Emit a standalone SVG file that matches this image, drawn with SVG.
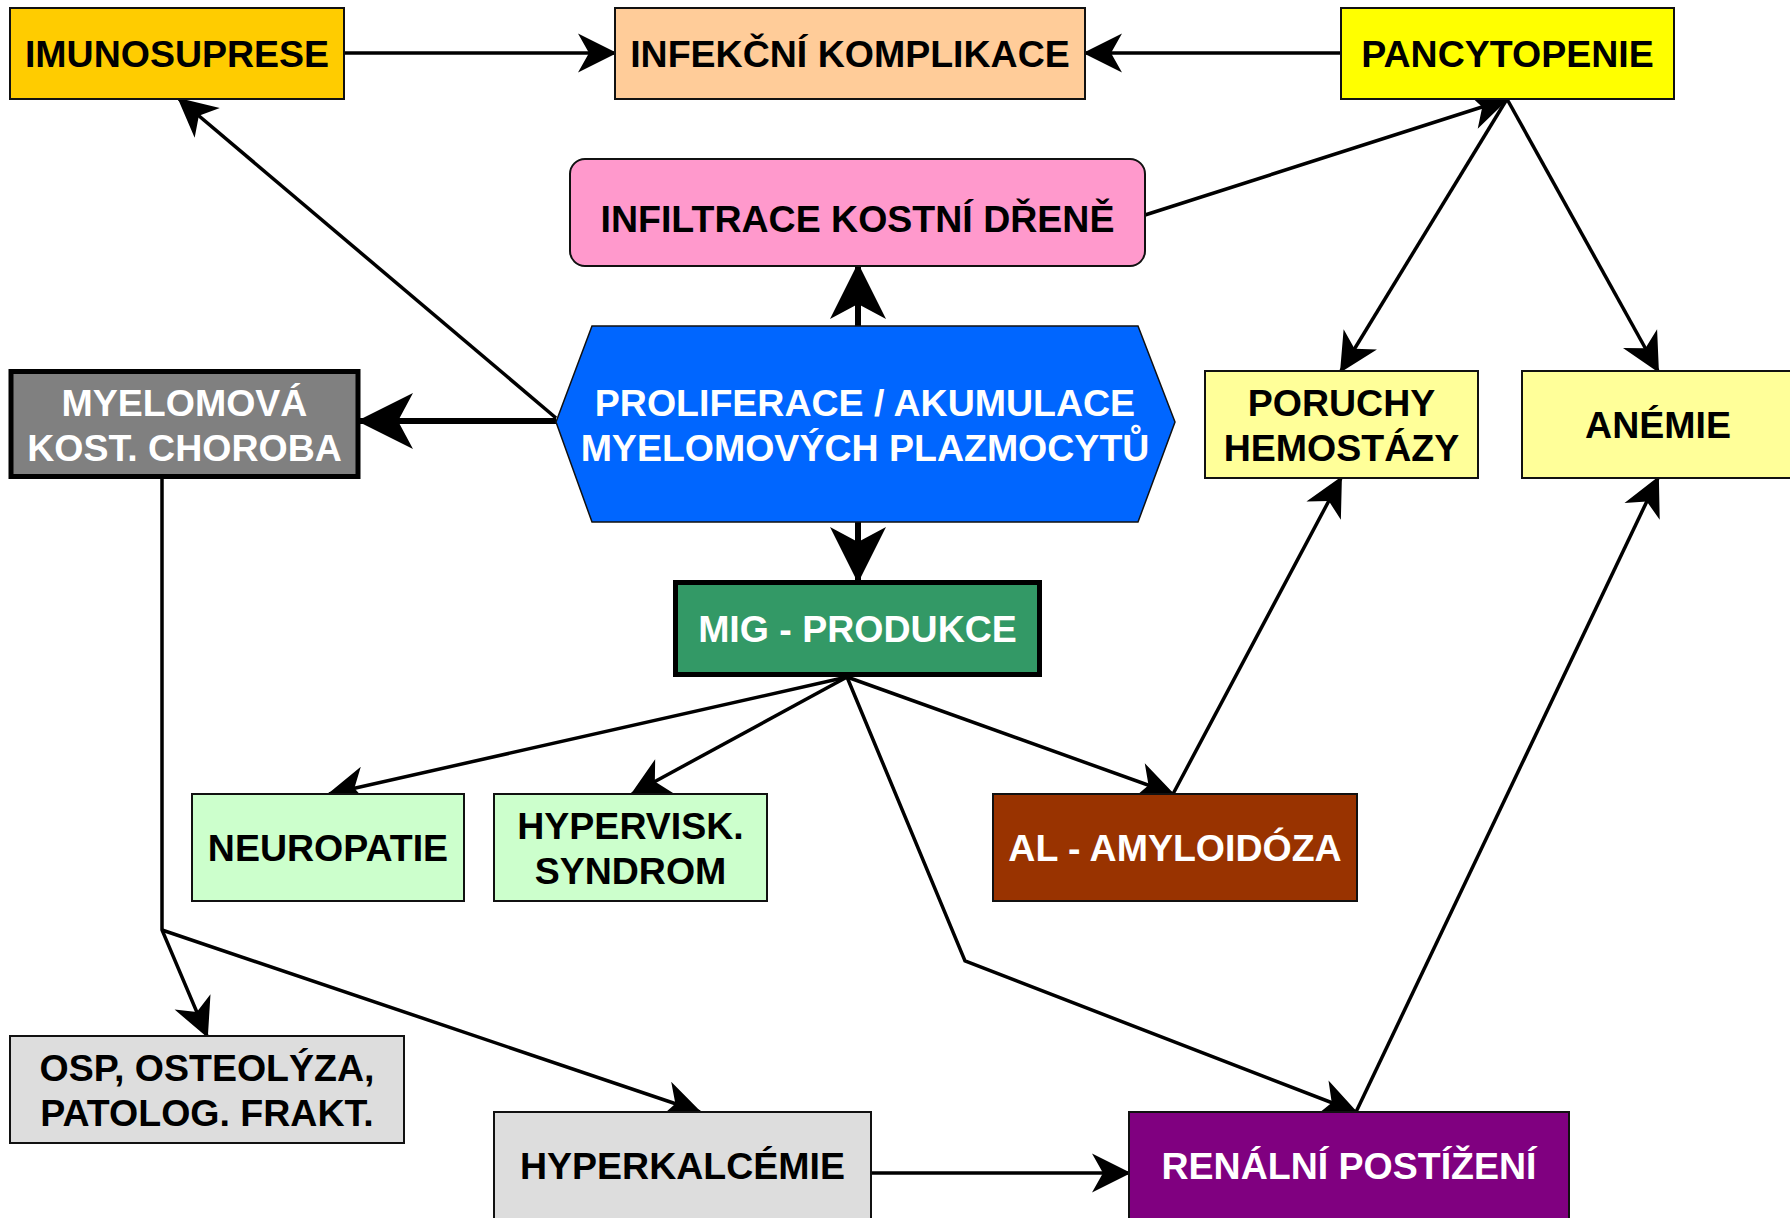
<svg xmlns="http://www.w3.org/2000/svg" width="1790" height="1218" viewBox="0 0 1790 1218">
<style>
.box{stroke:#111;stroke-width:2}
.thick{stroke:#000;stroke-width:5}
.t{font-family:"Liberation Sans",Arial,sans-serif;font-weight:bold;font-size:37.5px;text-anchor:middle;fill:#000}
.w{fill:#fff}
.c{fill:none;stroke:#000;stroke-width:3.5;stroke-linejoin:miter}
.ck{fill:none;stroke:#000;stroke-width:6}
</style>
<defs>
<marker id="a" markerUnits="userSpaceOnUse" viewBox="-42 -22 46 44" refX="-2" refY="0" markerWidth="46" markerHeight="44" orient="auto">
<path d="M0,0 L-39,-19.5 L-28,0 L-39,19.5 Z" fill="#000"/>
</marker>
<marker id="b" markerUnits="userSpaceOnUse" viewBox="-60 -30 64 60" refX="-3" refY="0" markerWidth="64" markerHeight="60" orient="auto">
<path d="M0,0 L-56,-28 L-41,0 L-56,28 Z" fill="#000"/>
</marker>
</defs>
<rect width="1790" height="1218" fill="#fff"/>
<g id="connectors">
<path class="c" d="M344,53 L615,53" marker-end="url(#a)"/>
<path class="c" d="M1341,53 L1085,53" marker-end="url(#a)"/>
<path class="c" d="M556,418 L179,99" marker-end="url(#a)"/>
<path class="c" d="M1145,215 L1507,99" marker-end="url(#a)"/>
<path class="c" d="M1507,99 L1341,371" marker-end="url(#a)"/>
<path class="c" d="M1507,99 L1658,371" marker-end="url(#a)"/>
<path class="ck" d="M858,326 L858,266" marker-end="url(#b)"/>
<path class="ck" d="M556,421 L360,421" marker-end="url(#b)"/>
<path class="ck" d="M858,522 L858,580" marker-end="url(#b)"/>
<path class="c" d="M847,677 L329,794" marker-end="url(#a)"/>
<path class="c" d="M847,677 L632,794" marker-end="url(#a)"/>
<path class="c" d="M847,677 L1173,794" marker-end="url(#a)"/>
<path class="c" d="M847,677 L965,961 L1356,1112" marker-end="url(#a)"/>
<path class="c" d="M1173,794 L1341,478" marker-end="url(#a)"/>
<path class="c" d="M1356,1112 L1658,478" marker-end="url(#a)"/>
<path class="c" d="M162,477 L162,930 L207,1036" marker-end="url(#a)"/>
<path class="c" d="M162,930 L700,1112" marker-end="url(#a)"/>
<path class="c" d="M871,1173 L1129,1173" marker-end="url(#a)"/>
</g>
<g id="imunosuprese"><rect class="box" x="10" y="8" width="334" height="91" fill="#FFCC00"/><text class="t" x="177" y="67">IMUNOSUPRESE</text></g>
<g id="infekcni"><rect class="box" x="615" y="8" width="470" height="91" fill="#FFCC99"/><text class="t" x="850" y="67">INFEKČNÍ KOMPLIKACE</text></g>
<g id="pancytopenie"><rect class="box" x="1341" y="8" width="333" height="91" fill="#FFFF00"/><text class="t" x="1507.5" y="67">PANCYTOPENIE</text></g>
<g id="infiltrace"><rect class="box" x="570" y="159" width="575" height="107" rx="15" fill="#FF99CC"/><text class="t" x="857.5" y="232">INFILTRACE KOSTNÍ DŘENĚ</text></g>
<g id="proliferace"><polygon points="556,422 592,326 1138,326 1175,422 1138,522 592,522" fill="#0066FF" stroke="#111" stroke-width="1.5"/><text class="t w" x="865" y="416">PROLIFERACE / AKUMULACE</text><text class="t w" x="865" y="461">MYELOMOVÝCH PLAZMOCYTŮ</text></g>
<g id="myelomova"><rect class="thick" x="11" y="371.5" width="347" height="105" fill="#808080"/><text class="t w" x="184.5" y="416">MYELOMOVÁ</text><text class="t w" x="184.5" y="461">KOST. CHOROBA</text></g>
<g id="poruchy"><rect class="box" x="1205" y="371" width="273" height="107" fill="#FFFF99"/><text class="t" x="1341.5" y="416">PORUCHY</text><text class="t" x="1341.5" y="461">HEMOSTÁZY</text></g>
<g id="anemie"><rect class="box" x="1522" y="371" width="274" height="107" fill="#FFFF99"/><text class="t" x="1658" y="438">ANÉMIE</text></g>
<g id="mig"><rect class="thick" x="675.5" y="582.5" width="364" height="92" fill="#339966"/><text class="t w" x="857.5" y="642">MIG - PRODUKCE</text></g>
<g id="neuropatie"><rect class="box" x="192" y="794" width="272" height="107" fill="#CCFFCC"/><text class="t" x="328" y="861">NEUROPATIE</text></g>
<g id="hypervisk"><rect class="box" x="494" y="794" width="273" height="107" fill="#CCFFCC"/><text class="t" x="630.5" y="839">HYPERVISK.</text><text class="t" x="630.5" y="884">SYNDROM</text></g>
<g id="amyloidoza"><rect class="box" x="993" y="794" width="364" height="107" fill="#993300"/><text class="t w" x="1175" y="861">AL - AMYLOIDÓZA</text></g>
<g id="osp"><rect class="box" x="10" y="1036" width="394" height="107" fill="#DDDDDD"/><text class="t" x="207" y="1081">OSP, OSTEOLÝZA,</text><text class="t" x="207" y="1126">PATOLOG. FRAKT.</text></g>
<g id="hyperkalcemie"><rect class="box" x="494" y="1112" width="377" height="112" fill="#DDDDDD"/><text class="t" x="682.5" y="1179">HYPERKALCÉMIE</text></g>
<g id="renalni"><rect class="box" x="1129" y="1112" width="440" height="112" fill="#800080"/><text class="t w" x="1349" y="1179">RENÁLNÍ POSTÍŽENÍ</text></g>
</svg>
